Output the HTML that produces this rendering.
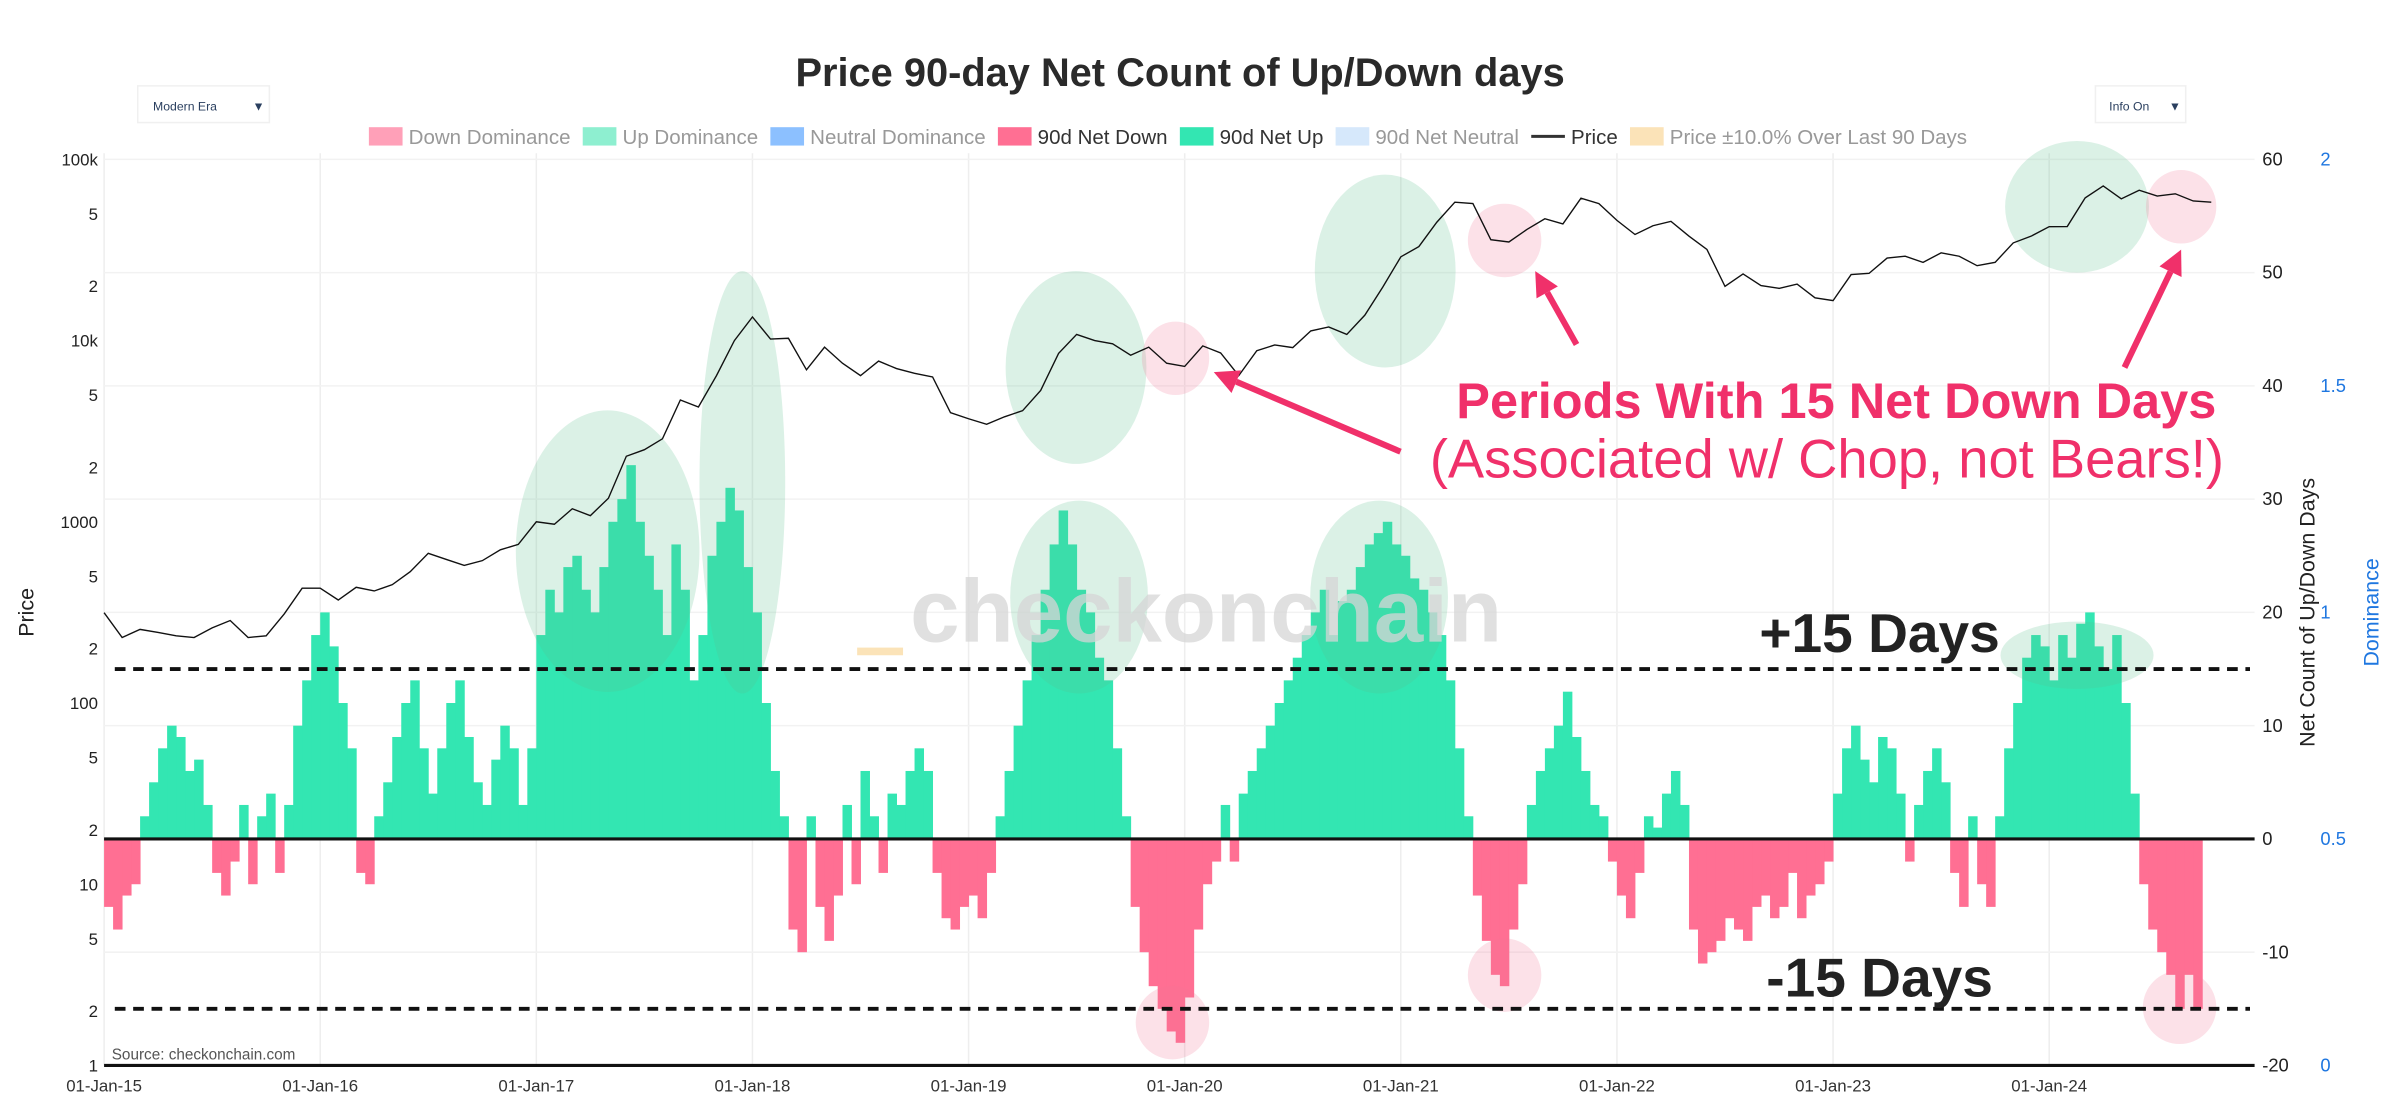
<!DOCTYPE html>
<html><head><meta charset="utf-8"><style>
html,body{margin:0;padding:0;background:#fff}
svg{display:block}
text{font-family:"Liberation Sans",sans-serif}
</style></head><body>
<svg id="chart" width="2400" height="1110" viewBox="0 0 1568 725" xmlns="http://www.w3.org/2000/svg">
<text x="771" y="56" text-anchor="middle" font-size="26" font-weight="bold" fill="#2a2a2a">Price 90-day Net Count of Up/Down days</text>
<g><rect x="90" y="56" width="86" height="24" fill="#fff" stroke="#f0f0f0"/><text x="100" y="72" font-size="8" fill="#2a3f5f">Modern Era</text><text x="165" y="72" font-size="8" fill="#2a3f5f">▼</text></g>
<g><rect x="1369" y="56" width="59" height="24" fill="#fff" stroke="#f0f0f0"/><text x="1378" y="72" font-size="8" fill="#2a3f5f">Info On</text><text x="1417" y="72" font-size="8" fill="#2a3f5f">▼</text></g>
<g id="legend" font-size="13.4"></g>
<g id="grid"></g>
<g id="bars"></g>
<g id="ellipses"></g>
<path id="price" fill="none" stroke="#111" stroke-width="0.9"/>
<rect x="560" y="423" width="30" height="5" fill="#fbe3b8"/>
<text x="788" y="419" text-anchor="middle" font-size="58" font-weight="bold" fill="#d6d6d6" opacity="0.75">checkonchain</text>
<g id="axes"></g>
<text x="1228" y="426" text-anchor="middle" font-size="36" font-weight="bold" fill="#222">+15 Days</text>
<text x="1228" y="651" text-anchor="middle" font-size="36" font-weight="bold" fill="#222">-15 Days</text>
<text x="1448" y="273" text-anchor="end" font-size="33" font-weight="bold" fill="#f0306a">Periods With 15 Net Down Days</text>
<text x="1453" y="312" text-anchor="end" font-size="35.5" fill="#f0306a">(Associated w/ Chop, not Bears!)</text>
<g id="arrows" stroke="#f0306a" stroke-width="4" fill="#f0306a"></g>
<text x="73" y="692" font-size="10" fill="#555">Source: checkonchain.com</text>
</svg>
<script>
const netCount=[-6,-8,-5,-4,2,5,8,10,9,6,7,3,-3,-5,-2,3,-4,2,4,-3,3,10,14,18,
20,17,12,8,-3,-4,2,5,9,12,14,8,4,8,12,14,9,5,3,7,10,8,3,8,
18,22,20,24,25,22,20,24,28,30,33,28,25,22,18,26,22,14,18,25,28,31,29,24,
20,12,6,2,-8,-10,2,-6,-9,-5,3,-4,6,2,-3,4,3,6,8,6,-3,-7,-8,-6,
-5,-7,-3,2,6,10,14,18,22,26,29,26,22,20,16,14,8,2,-6,-10,-13,-15,-17,-18,
-14,-8,-4,-2,3,-2,4,6,8,10,12,14,16,18,20,22,18,21,22,24,26,27,28,26,
25,23,22,20,18,14,8,2,-5,-9,-12,-13,-8,-4,3,6,8,10,13,9,6,3,2,-2,
-5,-7,-3,2,1,4,6,3,-8,-11,-10,-9,-7,-8,-9,-6,-5,-7,-6,-3,-7,-5,-4,-2,
4,8,10,7,5,9,8,4,-2,3,6,8,5,-3,-6,2,-4,-6,2,8,12,16,18,17,
14,18,16,19,20,17,15,18,12,4,-4,-8,-10,-12,-15,-12,-15];
const prices=[315,230,255,245,235,230,260,285,230,235,310,430,
430,370,435,415,450,530,670,620,575,610,700,750,
1000,970,1180,1080,1350,2300,2500,2870,4700,4300,6400,10000,
13500,10200,10300,6900,9200,7500,6400,7700,7000,6600,6300,4000,
3700,3450,3800,4100,5300,8500,10800,10000,9600,8300,9200,7500,
7200,9350,8550,6400,8800,9450,9150,11300,11900,10800,13800,19700,
29000,33000,45000,58000,57000,36000,35000,41000,47000,44000,61000,57000,
46000,38500,43000,45500,37700,31800,19900,23300,20100,19400,20500,17200,
16600,23100,23500,28500,29200,27000,30500,29200,25900,27000,34600,37700,
42500,42600,61200,71300,60600,67500,62700,64600,58900,58000];
const yearLabels=["01-Jan-15","01-Jan-16","01-Jan-17","01-Jan-18","01-Jan-19","01-Jan-20","01-Jan-21","01-Jan-22","01-Jan-23","01-Jan-24"];
const priceTicks=[100000,50000,20000,10000,5000,2000,1000,500,200,100,50,20,10,5,2,1];
const priceTickLabels=["100k","5","2","10k","5","2","1000","5","2","100","5","2","10","5","2","1"];
const countTicks=[60,50,40,30,20,10,0,-10,-20];
const domTicks=[2,1.5,1,0.5,0];

const NS="http://www.w3.org/2000/svg";
const X0=68,X1=1473,YR=141.2;
const xT=t=>X0+t*YR;
const yC=v=>548-v*7.4;
const yP=p=>104+(5-Math.log10(p))*118.4;
const yD=d=>696-d*296;
function mk(tag,attrs,parent){const e=document.createElementNS(NS,tag);for(const k in attrs)e.setAttribute(k,attrs[k]);parent.appendChild(e);return e;}
const grid=document.getElementById('grid'),axes=document.getElementById('axes');

yearLabels.forEach((l,i)=>{
  const gl=mk('line',{x1:xT(i),x2:xT(i),y1:100,y2:696,stroke:'#eee','stroke-width':1},grid);
  
  
  const t=mk('text',{x:xT(i),y:713,'text-anchor':'middle','font-size':'11',fill:'#333'},axes);
  t.textContent=l;
  
  
});
countTicks.forEach(v=>{
  const gl=mk('line',{x1:X0,x2:X1,y1:yC(v),y2:yC(v),stroke:'#f2f2f2','stroke-width':1},grid);
  
  
  const t=mk('text',{x:1478,y:yC(v)+4,'font-size':'12',fill:'#222'},axes);
  t.textContent=v;
  
  
});
domTicks.forEach(d=>{
  const t=mk('text',{x:1516,y:yD(d)+4,'font-size':'12',fill:'#1f77e0'},axes);
  t.textContent=d;
  
  
});
priceTicks.forEach((p,i)=>{
  const t=mk('text',{x:64,y:yP(p)+4,'text-anchor':'end','font-size':'11',fill:'#222'},axes);
  t.textContent=priceTickLabels[i];
  
  
});
let a=mk('text',{x:22,y:400,'text-anchor':'middle','font-size':'14',fill:'#222',transform:'rotate(-90 22 400)'},axes);
a.textContent='Price';


a=mk('text',{x:1512,y:400,'text-anchor':'middle','font-size':'14',fill:'#222',transform:'rotate(-90 1512 400)'},axes);
a.textContent='Net Count of Up/Down Days';


a=mk('text',{x:1554,y:400,'text-anchor':'middle','font-size':'14',fill:'#1f77e0',transform:'rotate(-90 1554 400)'},axes);
a.textContent='Dominance';



const bars=document.getElementById('bars');
const step=1/24;
netCount.forEach((v,i)=>{
  const x=xT(i*step),w=step*YR+0.3;
  const r=mk('rect',{x:x,y:Math.min(yC(v),548),width:w,height:Math.abs(yC(v)-548),fill:v>0?'#33e6b2':'#ff6f93'},bars);
  
  
});
a=mk('line',{x1:X0,x2:X1,y1:548,y2:548,stroke:'#111','stroke-width':2},axes);

a=mk('line',{x1:X0,x2:X1,y1:696,y2:696,stroke:'#111','stroke-width':2},axes);

[15,-15].forEach(v=>{
  const l=mk('line',{x1:75,x2:1470,y1:yC(v),y2:yC(v),stroke:'#111','stroke-width':2.5,'stroke-dasharray':'7,5'},axes);
  
  
});

let d='';
prices.forEach((p,i)=>{d+=(i?'L':'M')+xT(i/12).toFixed(1)+','+yP(p).toFixed(1);});
document.getElementById('price').setAttribute('d',d);

const ell=document.getElementById('ellipses');
[[397,360,60,92,'g'],[485,315,28,138,'g'],[703,240,46,63,'g'],[705,390,45,63,'g'],[905,177,46,63,'g'],[901,390,45,63,'g'],[1357,135,47,43,'g'],[1357,428,50,22,'g'],
 [768,234,22,24,'p'],[983,157,24,24,'p'],[1425,135,23,24,'p'],[766,668,24,24,'p'],[983,637,24,24,'p'],[1424,658,24,24,'p']].forEach(e=>{
  const el=mk('ellipse',{cx:e[0],cy:e[1],rx:e[2],ry:e[3],fill:e[4]=='g'?'rgba(90,190,140,0.22)':'rgba(240,120,150,0.22)'},ell);
  
  
});

const arr=document.getElementById('arrows');
[[915,295,793,243],[1030,225,1003,177],[1388,240,1425,163]].forEach(r=>{
  const [x1,y1,x2,y2]=r;const ang=Math.atan2(y2-y1,x2-x1),L=16,W=8;
  const bx=x2-L*Math.cos(ang),by=y2-L*Math.sin(ang);
  const l=mk('line',{x1:x1,y1:y1,x2:bx,y2:by},arr);
  
  
  const px=-Math.sin(ang)*W,py=Math.cos(ang)*W;
  const h=mk('polygon',{points:`${x2},${y2} ${bx+px},${by+py} ${bx-px},${by-py}`,stroke:'none'},arr);
  
  
});

const lg=document.getElementById('legend');
const legItems=[["Down Dominance","#ffa0b8","#999",0],["Up Dominance","#8eefd0","#999",0],["Neutral Dominance","#8cc0ff","#999",0],["90d Net Down","#ff6f93","#333",0],["90d Net Up","#33e6b2","#333",0],["90d Net Neutral","#d6e8fb","#999",0],["Price","#333","#333",1],["Price ±10.0% Over Last 90 Days","#fbe3b8","#999",0]];
let lx=241;
legItems.forEach(it=>{
  const g=mk('g',{},lg);
  
  
  if(it[3]) mk('line',{x1:lx,x2:lx+22,y1:89,y2:89,stroke:it[1],'stroke-width':2},g);
  else mk('rect',{x:lx,y:83,width:22,height:12,fill:it[1]},g);
  const t=mk('text',{x:lx+26,y:94,fill:it[2]},g);
  t.textContent=it[0];
  lx+=26+t.getComputedTextLength()+8;
});
</script>
</body></html>
